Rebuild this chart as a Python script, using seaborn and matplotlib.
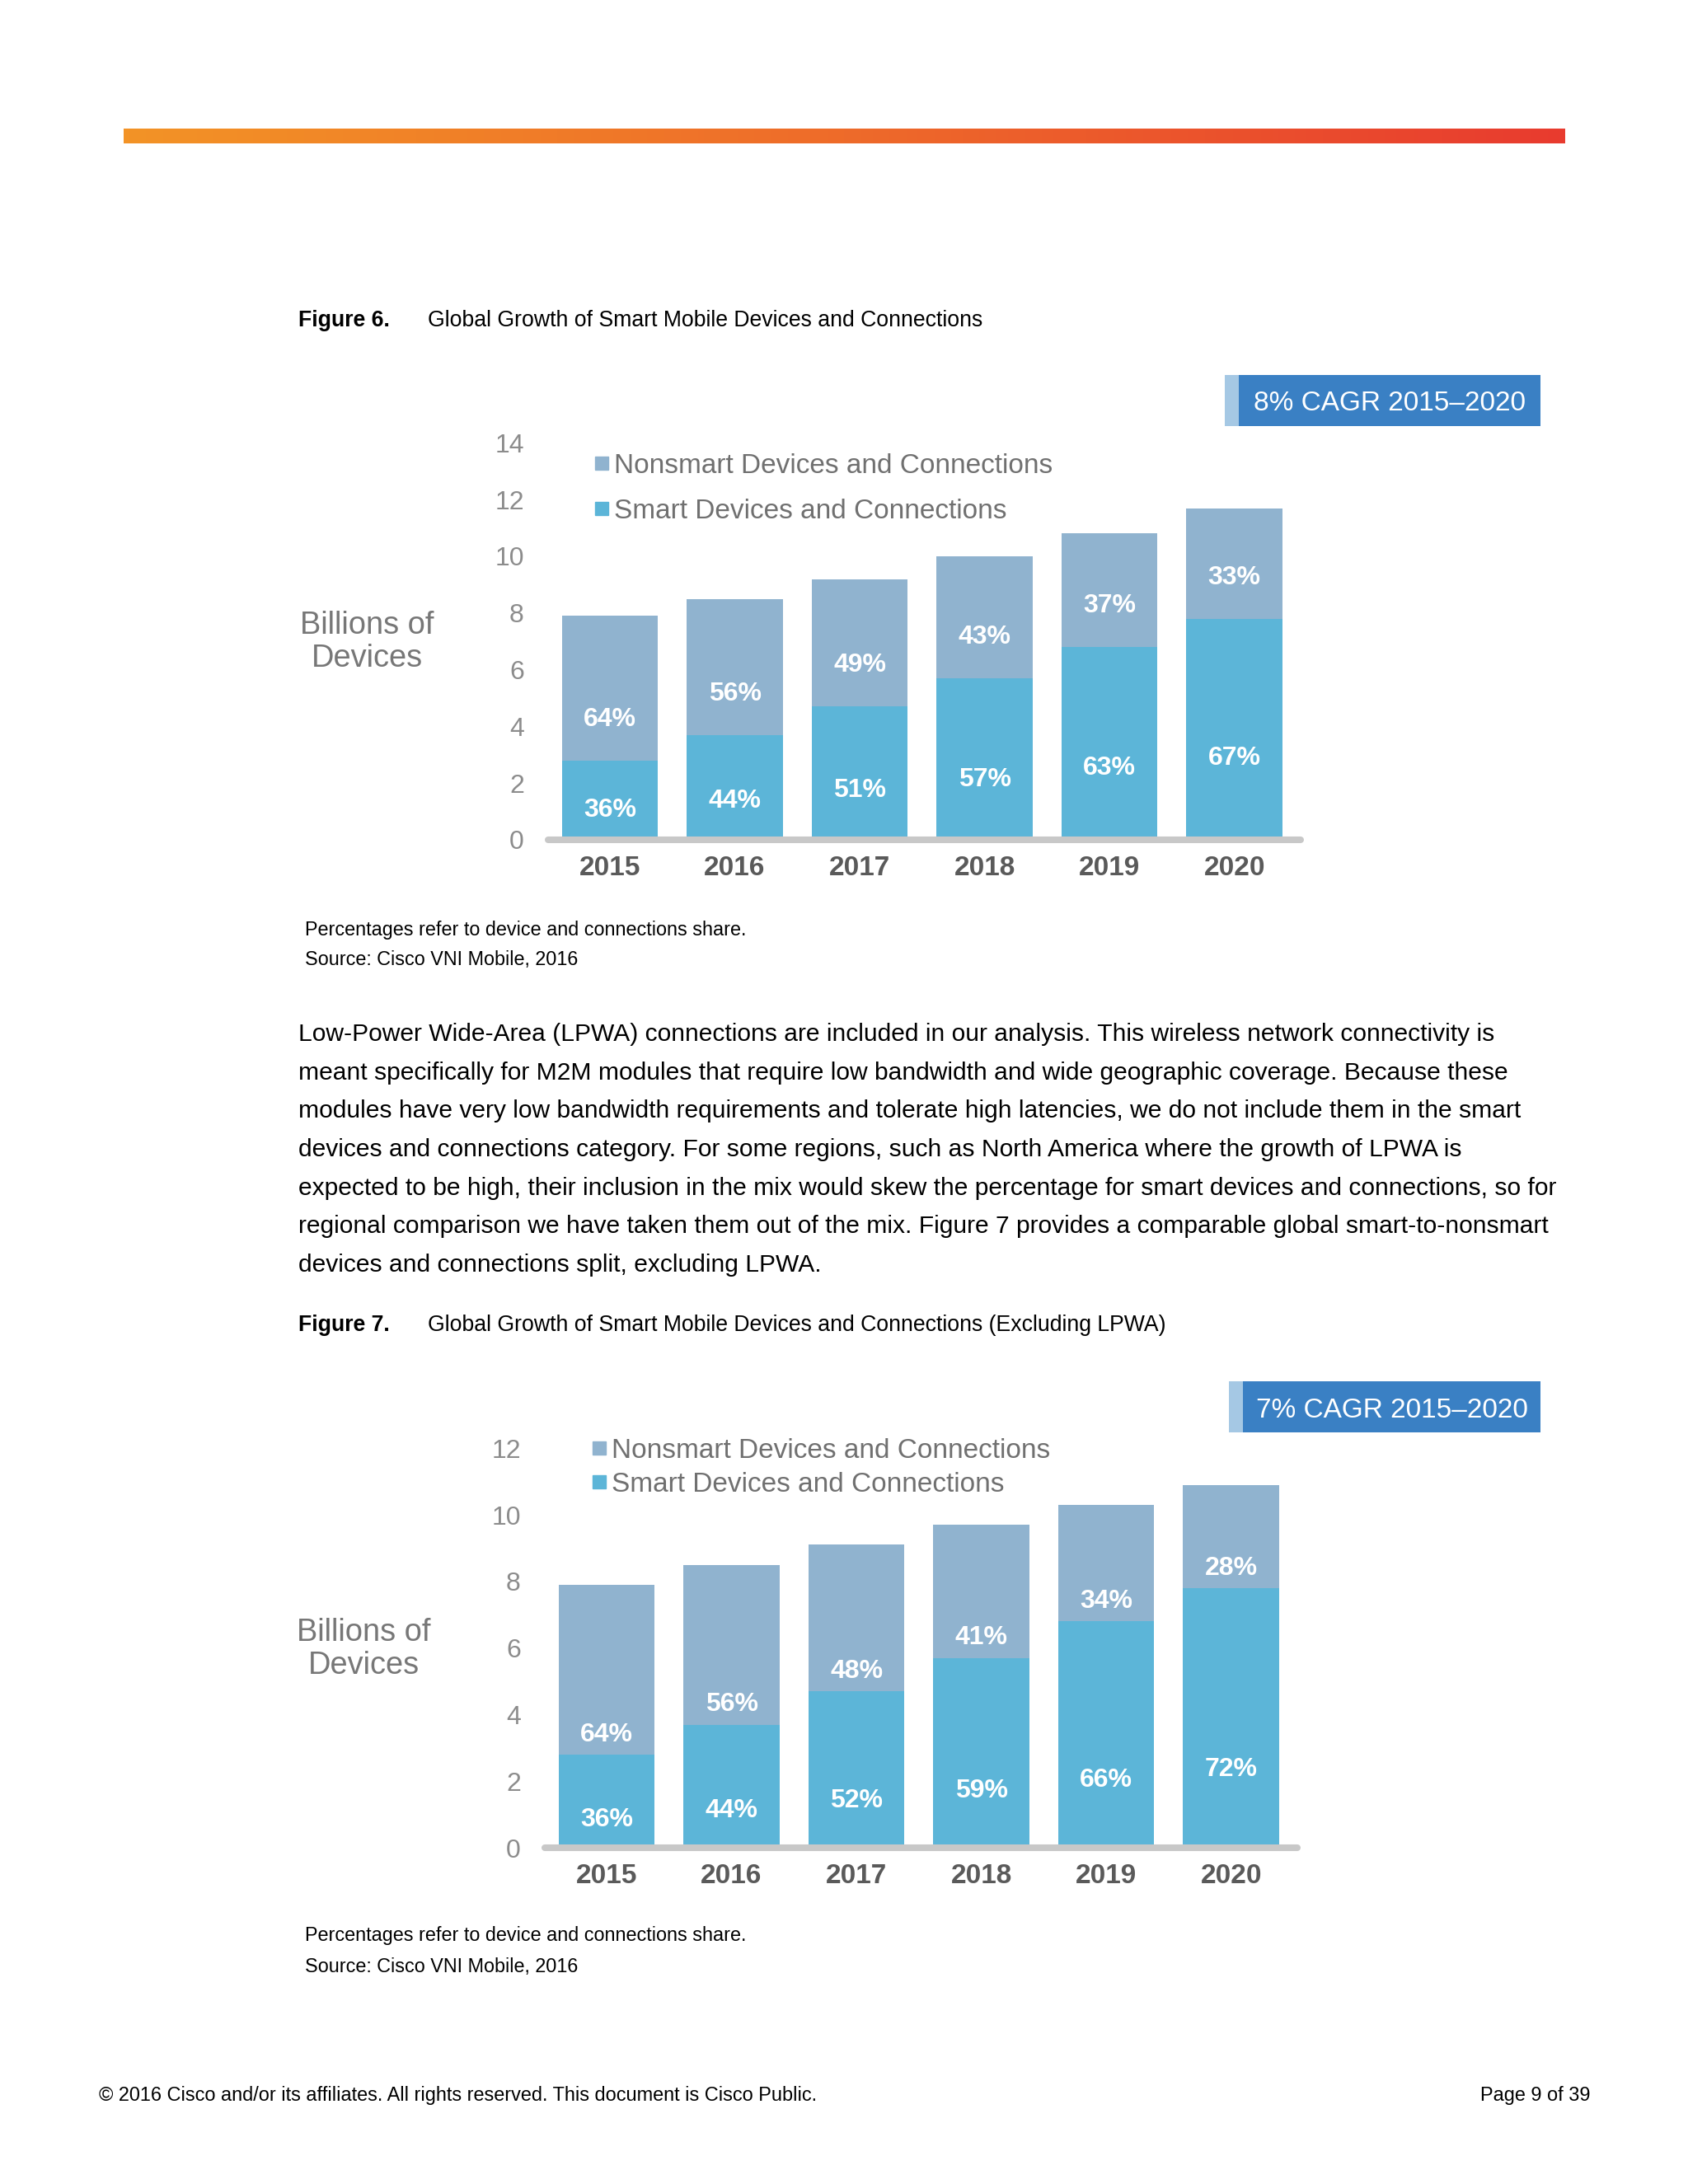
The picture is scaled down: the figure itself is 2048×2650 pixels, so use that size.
"""
Cisco VNI page: global growth of smart mobile devices and connections (Figures 6 and 7).
"""

import numpy as np
import pandas as pd
import seaborn as sns
import matplotlib
matplotlib.use('Agg')
import matplotlib.pyplot as plt
from matplotlib.patches import Rectangle
from matplotlib.lines import Line2D
from matplotlib.colors import LinearSegmentedColormap

sns.set_theme(style="white")
plt.rcParams['font.family'] = ['Liberation Sans', 'DejaVu Sans']

years = ['2015', '2016', '2017', '2018', '2019', '2020']

# Figure 6 - billions of devices
smart_6 = [2.8, 3.7, 4.7, 5.7, 6.8, 7.8]
nonsmart_6 = [5.1, 4.8, 4.5, 4.3, 4.0, 3.9]
smart_pct_6 = ['36%', '44%', '51%', '57%', '63%', '67%']
nonsmart_pct_6 = ['64%', '56%', '49%', '43%', '37%', '33%']
yticks_6 = [0, 2, 4, 6, 8, 10, 12, 14]
cagr_6 = '8% CAGR 2015\u20132020'

# Figure 7 - excluding LPWA
smart_7 = [2.8, 3.7, 4.7, 5.7, 6.8, 7.8]
nonsmart_7 = [5.1, 4.8, 4.4, 4.0, 3.5, 3.1]
smart_pct_7 = ['36%', '44%', '52%', '59%', '66%', '72%']
nonsmart_pct_7 = ['64%', '56%', '48%', '41%', '34%', '28%']
yticks_7 = [0, 2, 4, 6, 8, 10, 12]
cagr_7 = '7% CAGR 2015\u20132020'

legend_labels = ['Nonsmart Devices and Connections', 'Smart Devices and Connections']

paragraph = [
    "Low-Power Wide-Area (LPWA) connections are included in our analysis. This wireless network connectivity is",
    "meant specifically for M2M modules that require low bandwidth and wide geographic coverage. Because these",
    "modules have very low bandwidth requirements and tolerate high latencies, we do not include them in the smart",
    "devices and connections category. For some regions, such as North America where the growth of LPWA is",
    "expected to be high, their inclusion in the mix would skew the percentage for smart devices and connections, so for",
    "regional comparison we have taken them out of the mix. Figure 7 provides a comparable global smart-to-nonsmart",
    "devices and connections split, excluding LPWA.",
]

NONSMART = '#90b3cf'
SMART = '#5cb5d8'
BOX = '#3a80c4'
STRIPE = '#a5c8e4'

W, H = 2048, 2650
fig = plt.figure(figsize=(W / 100, H / 100), dpi=100)
fig.patch.set_facecolor('white')


def fx(x):
    return x / W


def fy(y):
    return 1 - y / H


def px_axes(left, right, top, bottom):
    return fig.add_axes([left / W, 1 - bottom / H, (right - left) / W, (bottom - top) / H])


# orange top bar
cmap = LinearSegmentedColormap.from_list('cisco', ['#f39326', '#ee6b2a', '#e83b2f'])
axg = px_axes(150, 1899, 156, 174)
axg.imshow(np.linspace(0, 1, 256)[None, :], aspect='auto', cmap=cmap)
axg.axis('off')


def draw_chart(ax, smart, nonsmart, smart_pct, nonsmart_pct, yticks, ytop,
               smart_frac, nonsmart_off, legend_left, legend_mid, legend_space):
    df = pd.DataFrame({'year': years, 'smart': smart, 'nonsmart': nonsmart})
    df['total'] = df['smart'] + df['nonsmart']
    sns.barplot(data=df, x='year', y='total', color=NONSMART, width=0.77,
                linewidth=0, saturation=1, errorbar=None, ax=ax)
    sns.barplot(data=df, x='year', y='smart', color=SMART, width=0.77,
                linewidth=0, saturation=1, errorbar=None, ax=ax)
    ax.set_xlim(-0.495, 5.53)
    ax.set_ylim(0, ytop)
    ax.set_xlabel('')
    ax.set_ylabel('')
    ax.set_facecolor('none')
    sns.despine(ax=ax, left=True, bottom=True)
    ax.axhline(0, color='#c8c8c8', lw=5.8, clip_on=False, zorder=5)

    ax.set_yticks(yticks)
    ax.set_yticklabels([str(t) for t in yticks], fontsize=23, color='#8c8c8c')
    ax.set_xticks(range(len(years)))
    ax.set_xticklabels(years, fontsize=24, fontweight='bold', color='#5a5a5a')
    ax.tick_params(axis='y', length=0, pad=21)
    ax.tick_params(axis='x', length=0, pad=14)

    for i in range(len(years)):
        ax.text(i, smart[i] * smart_frac, smart_pct[i], ha='center', va='center',
                color='white', fontsize=23, fontweight='bold')
        ax.text(i, smart[i] + nonsmart_off, nonsmart_pct[i], ha='center', va='center',
                color='white', fontsize=23, fontweight='bold')

    handles = [Line2D([], [], marker='s', linestyle='none', markersize=11,
                      color=c, label=l) for c, l in zip([NONSMART, SMART], legend_labels)]
    ax.legend(handles=handles, loc='center left',
              bbox_to_anchor=(fx(legend_left), fy(legend_mid)), bbox_transform=fig.transFigure,
              frameon=False, fontsize=24, labelcolor='#707070', handlelength=0.5,
              handletextpad=0.2, labelspacing=legend_space, borderpad=0, borderaxespad=0)


def cagr_box(left, right, top, bottom, text):
    fig.add_artist(Rectangle((fx(left), fy(bottom)), 17 / W, (bottom - top) / H,
                             transform=fig.transFigure, color=STRIPE, lw=0))
    fig.add_artist(Rectangle((fx(left + 17), fy(bottom)), (right - left - 17) / W,
                             (bottom - top) / H, transform=fig.transFigure, color=BOX, lw=0))
    fig.text(fx((left + 17 + right) / 2), fy((top + bottom) / 2 + 4), text, ha='center',
             va='center', fontsize=24, color='white')


def caption(y, num, text):
    fig.text(fx(362), fy(y), num, fontsize=19.2, fontweight='bold', va='center', color='black')
    fig.text(fx(519), fy(y), text, fontsize=19.2, va='center', color='black')


def notes(y):
    fig.text(fx(370), fy(y), 'Percentages refer to device and connections share.',
             fontsize=16.8, va='center', color='black')
    fig.text(fx(370), fy(y + 37), 'Source: Cisco VNI Mobile, 2016',
             fontsize=16.8, va='center', color='black')


# Figure 6
caption(389, 'Figure 6.', 'Global Growth of Smart Mobile Devices and Connections')
cagr_box(1486, 1869, 455, 517, cagr_6)
ax1 = px_axes(665, 1578, 1019 - 14.6 * 34.4, 1019)
draw_chart(ax1, smart_6, nonsmart_6, smart_pct_6, nonsmart_pct_6, yticks_6, 14.6,
           0.37, 1.45, 722, 593, 0.71)
fig.text(fx(445), fy(779), 'Billions of\nDevices', ha='center', va='center',
         multialignment='center', fontsize=27.4, color='#777777', linespacing=1.15)
notes(1128)

# body text
for k, line in enumerate(paragraph):
    fig.text(fx(362), fy(1255 + k * 46.7), line, fontsize=21.6, va='center', color='black')

# Figure 7
caption(1608, 'Figure 7.', 'Global Growth of Smart Mobile Devices and Connections (Excluding LPWA)')
cagr_box(1491, 1869, 1676, 1738, cagr_7)
ax2 = px_axes(661, 1574, 2242 - 12.6 * 40.4, 2242)
draw_chart(ax2, smart_7, nonsmart_7, smart_pct_7, nonsmart_pct_7, yticks_7, 12.6,
           0.3, 0.6, 719, 1781, 0.3)
fig.text(fx(441), fy(2001), 'Billions of\nDevices', ha='center', va='center',
         multialignment='center', fontsize=27.4, color='#777777', linespacing=1.15)
notes(2349)

# footer
fig.text(fx(120), fy(2543), '\u00a9 2016 Cisco and/or its affiliates. All rights reserved. '
         'This document is Cisco Public.', fontsize=16.9, va='center', color='black')
fig.text(fx(1930), fy(2543), 'Page 9 of 39', fontsize=16.9, va='center', ha='right', color='black')

plt.savefig('out.png', dpi=100)
